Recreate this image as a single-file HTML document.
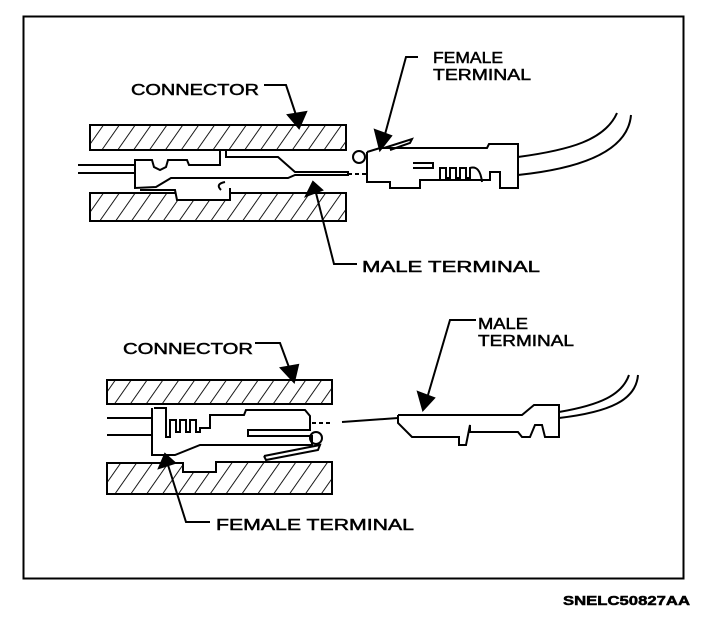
<!DOCTYPE html>
<html><head><meta charset="utf-8"><style>
html,body{margin:0;padding:0;background:#fff}
svg{display:block}
text{font-family:"Liberation Sans",sans-serif;fill:#000;font-size:16px;stroke:#000;stroke-width:0.5}
</style></head><body>
<svg width="704" height="624" viewBox="0 0 704 624" xmlns="http://www.w3.org/2000/svg">
<defs>
<pattern id="h" patternUnits="userSpaceOnUse" width="13" height="13" patternTransform="rotate(35)">
<line x1="0" y1="0" x2="0" y2="13" stroke="#000" stroke-width="1.8"/>
</pattern>
</defs>
<rect x="23.5" y="16.5" width="660" height="562" fill="none" stroke="#000" stroke-width="2"/>
<g stroke="#000" stroke-width="2" fill="none">
<rect x="90" y="125" width="256" height="25" fill="url(#h)"/>
<rect x="90" y="193" width="256" height="28" fill="url(#h)"/>
<line x1="78" y1="165" x2="137" y2="165"/>
<line x1="78" y1="173" x2="137" y2="173"/>
<polyline fill="#fff" points="137,160 152,160 154,167 160,170 166,167 168,160 187,160 189,165 220,165 220,150 226,150 226,157 278,157 295,172 348,172 348,175 295,175 288,178 171,178 156,187 135,188 135,160 137,160"/>
<polyline fill="#fff" points="140,190 175,190 177,200 230,200 230,188"/>
<path d="M221,190 q-6,-6 4,-8" />
<line x1="348" y1="174" x2="367" y2="174" stroke-dasharray="4,3"/>
<circle cx="359" cy="157" r="6"/>
<polyline fill="#fff" points="367,152 380,148 487,148 489,144 518,144 518,188 500,188 500,172 490,172 490,180 420,180 420,188 390,188 390,182 367,182 367,152"/>
<polyline points="413,163 433,163 433,168 413,168"/>
<path d="M440,180 v-12 h6 v10 h4 v-10 h6 v10 h4 v-10 h6 v10 h4 v-10 q10,-3 12,14"/>
<polyline points="384,148 412,139 410,143 390,150"/>
<path d="M518,157 C570,150 605,140 617,113"/>
<path d="M518,175 C585,168 628,150 631,115"/>
<polyline points="264,85 286,85 297,118"/>
<polygon fill="#000" points="288,115 306,112 299,128"/>
<polyline points="418,57 406,57 384,138"/>
<polygon fill="#000" points="375,130 391,136 380,150"/>
<polyline points="357,264 334,264 316,193"/>
<polygon fill="#000" points="306,196 322,190 313,182"/>
<rect x="107" y="380" width="225" height="24" fill="url(#h)"/>
<path d="M107,463 H183 V472 H216 V462 H332 V494 H107 Z" fill="url(#h)"/>
<line x1="107" y1="418" x2="154" y2="418"/>
<line x1="107" y1="435" x2="154" y2="435"/>
<polyline fill="#fff" points="154,408 166,408 166,437 170,437 170,420 176,420 176,432 180,432 180,420 186,420 186,432 190,432 190,420 196,420 196,432 200,432 200,428 210,428 210,415 244,415 246,410 305,410 310,416 310,430 248,430 248,436 312,436 312,445 200,445 175,455 152,455 152,408"/>
<circle cx="316" cy="438" r="6"/>
<polyline points="264,456 320,445 318,450 266,460 264,456"/>
<line x1="312" y1="423" x2="332" y2="423" stroke-dasharray="4,3"/>
<polyline fill="#fff" points="398,415 522,415 534,405 559,405 559,437 545,437 542,425 535,425 530,437 522,437 518,432 470,432 470,425 466,445 459,445 459,437 412,437 398,423 398,415"/>
<path d="M398,418 L342,422"/>
<path d="M559,412 C600,405 622,395 629,375"/>
<path d="M559,418 C610,412 636,400 638,375"/>
<polyline points="255,343 280,343 290,370"/>
<polygon fill="#000" points="281,368 298,365 294,382"/>
<polyline points="476,320 450,320 428,395"/>
<polygon fill="#000" points="418,392 434,398 423,410"/>
<polyline points="210,522 186,522 168,465"/>
<polygon fill="#000" points="159,468 175,463 165,454"/>
</g>
<text x="131" y="95" textLength="128" lengthAdjust="spacingAndGlyphs">CONNECTOR</text>
<text x="433" y="63" textLength="70" lengthAdjust="spacingAndGlyphs">FEMALE</text>
<text x="433" y="80" textLength="98" lengthAdjust="spacingAndGlyphs">TERMINAL</text>
<text x="362" y="272" textLength="178" lengthAdjust="spacingAndGlyphs">MALE TERMINAL</text>
<text x="123" y="354" textLength="130" lengthAdjust="spacingAndGlyphs">CONNECTOR</text>
<text x="478" y="329" textLength="50" lengthAdjust="spacingAndGlyphs">MALE</text>
<text x="478" y="346" textLength="96" lengthAdjust="spacingAndGlyphs">TERMINAL</text>
<text x="216" y="530" textLength="198" lengthAdjust="spacingAndGlyphs">FEMALE TERMINAL</text>
<text x="563" y="605" textLength="127" lengthAdjust="spacingAndGlyphs" style="font-size:13px;font-weight:bold">SNELC50827AA</text>
</svg>
</body></html>
